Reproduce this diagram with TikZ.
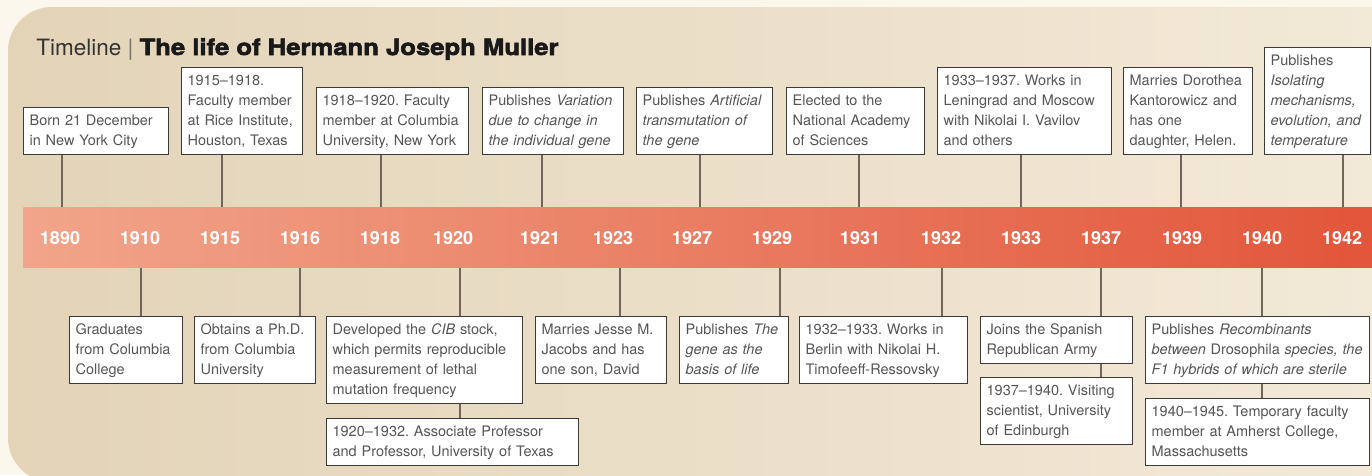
\documentclass[tikz,border=0pt]{standalone}
\usepackage{fontspec}
\setmainfont{TeX Gyre Heros}
\newfontfamily\blackfont[FakeBold=2.5, FakeStretch=1.14]{TeX Gyre Heros}
\newcommand*{\evfont}{\fontsize{10.3pt}{14.23pt}\selectfont}
\newcommand*{\yrfont}{\fontsize{12.8pt}{14pt}\selectfont\bfseries}
\newcommand*{\titlefont}{\fontsize{16pt}{20pt}\selectfont}
\frenchspacing
\definecolor{outerbg}{HTML}{FCF7EC}
\definecolor{panelL}{HTML}{E3D4B8}
\definecolor{panelR}{HTML}{F3EAD9}
\definecolor{barL}{HTML}{F1A58A}
\definecolor{barR}{HTML}{E2553A}
\definecolor{boxline}{HTML}{3A3A3A}
\definecolor{evtext}{HTML}{555555}
\definecolor{linkgray}{HTML}{6F675D}

\begin{document}
\begin{tikzpicture}[x=0.025cm, y=-0.025cm,
        evbox/.style={draw=boxline, line width=0.9pt, fill=white, text=evtext, font=\evfont,
            align=left, inner xsep=0.15cm, inner ysep=0.0875cm, anchor=north west,
            execute at begin node=\strut, execute at end node=\strut},
        boxw/.code={\pgfmathsetlengthmacro\evw{(#1-12)*0.025cm}\tikzset{text width=\evw}},
        link/.style={draw=linkgray, line width=1.05pt},
        yearlbl/.style={text=white, font=\yrfont, inner sep=0pt}]
        \useasboundingbox (0,0) rectangle (1372,475);
        \fill[outerbg] (0,0) rectangle (1372,475);
        \path[left color=panelL, right color=panelR, rounded corners=1.1cm]
            (1450,7) -- (8,7) -- (8,482) -- (1450,482) -- cycle;

        \node[anchor=base west, inner sep=0pt, font=\titlefont, text=black!80] (title) at (36,55)
            {Timeline {\color{black!55}|} {\blackfont\bfseries\color{black!90} The life of Hermann Joseph Muller}};

        \node[anchor=north west, inner sep=0pt, minimum width=33.925cm, minimum height=1.5cm,
            left color=barL, right color=barR] (bar) at (23,207) {};

        \foreach \yr/\tx/\lx in {1890/62/60, 1910/141/140, 1915/222/220, 1916/300/300, 1918/381/380,
                1920/460/453, 1921/542/540, 1923/620/613, 1927/700/692, 1929/780/772, 1931/859/860,
                1932/942/941, 1933/1021/1021, 1937/1101/1101, 1939/1181/1182, 1940/1262/1262, 1942/1343/1342} {
                \coordinate (tk\yr) at (\tx,237);
                \node[yearlbl] (yl\yr) at (\lx,238) {\yr};
            }

        \node[evbox, boxw=145] (t1890) at (23,107) {Born 21 December\\in New York City};
        \node[evbox, boxw=121] (t1915) at (181,67) {1915--1918.\\Faculty member\\at Rice Institute,\\Houston, Texas};
        \node[evbox, boxw=152] (t1918) at (316,87) {1918--1920. Faculty\\member at Columbia\\University, New York};
        \node[evbox, boxw=141] (t1921) at (482,87) {Publishes \textit{Variation}\\\textit{due to change in}\\\textit{the individual gene}};
        \node[evbox, boxw=136] (t1927) at (636,87) {Publishes \textit{Artificial}\\\textit{transmutation of}\\\textit{the gene}};
        \node[evbox, boxw=138] (t1931) at (786,87) {Elected to the\\National Academy\\of Sciences};
        \node[evbox, boxw=174] (t1933) at (937,67) {1933--1937. Works in\\Leningrad and Moscow\\with Nikolai I. Vavilov\\and others};
        \node[evbox, boxw=129] (t1939) at (1123,67) {Marries Dorothea\\Kantorowicz and\\has one\\daughter, Helen.};
        \node[evbox, boxw=106] (t1942) at (1264,47) {Publishes\\\textit{Isolating}\\\textit{mechanisms,}\\\textit{evolution, and}\\\textit{temperature}};

        \node[evbox, boxw=113] (b1910) at (69,316) {Graduates\\from Columbia\\College};
        \node[evbox, boxw=121] (b1916) at (194,316) {Obtains a Ph.D.\\from Columbia\\University};
        \node[evbox, boxw=196] (b1920) at (326,316) {Developed the \textit{CIB} stock,\\which permits reproducible\\measurement of lethal\\mutation frequency};
        \node[evbox, boxw=252] (c1920) at (326,418) {1920--1932. Associate Professor\\and Professor, University of Texas};
        \node[evbox, boxw=131] (b1923) at (535,316) {Marries Jesse M.\\Jacobs and has\\one son, David};
        \node[evbox, boxw=109] (b1929) at (679,316) {Publishes \textit{The}\\\textit{gene as the}\\\textit{basis of life}};
        \node[evbox, boxw=168] (b1932) at (799,316) {1932--1933. Works in\\Berlin with Nikolai H.\\Timofeeff-Ressovsky};
        \node[evbox, boxw=152] (b1937) at (980,316) {Joins the Spanish\\Republican Army};
        \node[evbox, boxw=152] (c1937) at (980,377) {1937--1940. Visiting\\scientist, University\\of Edinburgh};
        \node[evbox, boxw=224] (b1940) at (1145,316) {Publishes \textit{Recombinants}\\\textit{between} Drosophila \textit{species, the}\\\textit{F1 hybrids of which are sterile}};
        \node[evbox, boxw=224] (c1940) at (1145,398) {1940--1945. Temporary faculty\\member at Amherst College,\\Massachusetts};

        \foreach \yr in {1890,1915,1918,1921,1927,1931,1933,1939,1942} {
                \draw[link] (t\yr.south -| tk\yr) -- (tk\yr |- bar.north);
            }
        \foreach \yr in {1910,1916,1920,1923,1929,1932,1937,1940} {
                \draw[link] (tk\yr |- bar.south) -- (b\yr.north -| tk\yr);
            }
        \foreach \yr in {1920,1937,1940} {
                \draw[link] (b\yr.south -| tk\yr) -- (c\yr.north -| tk\yr);
            }
    \end{tikzpicture}
\end{document}
